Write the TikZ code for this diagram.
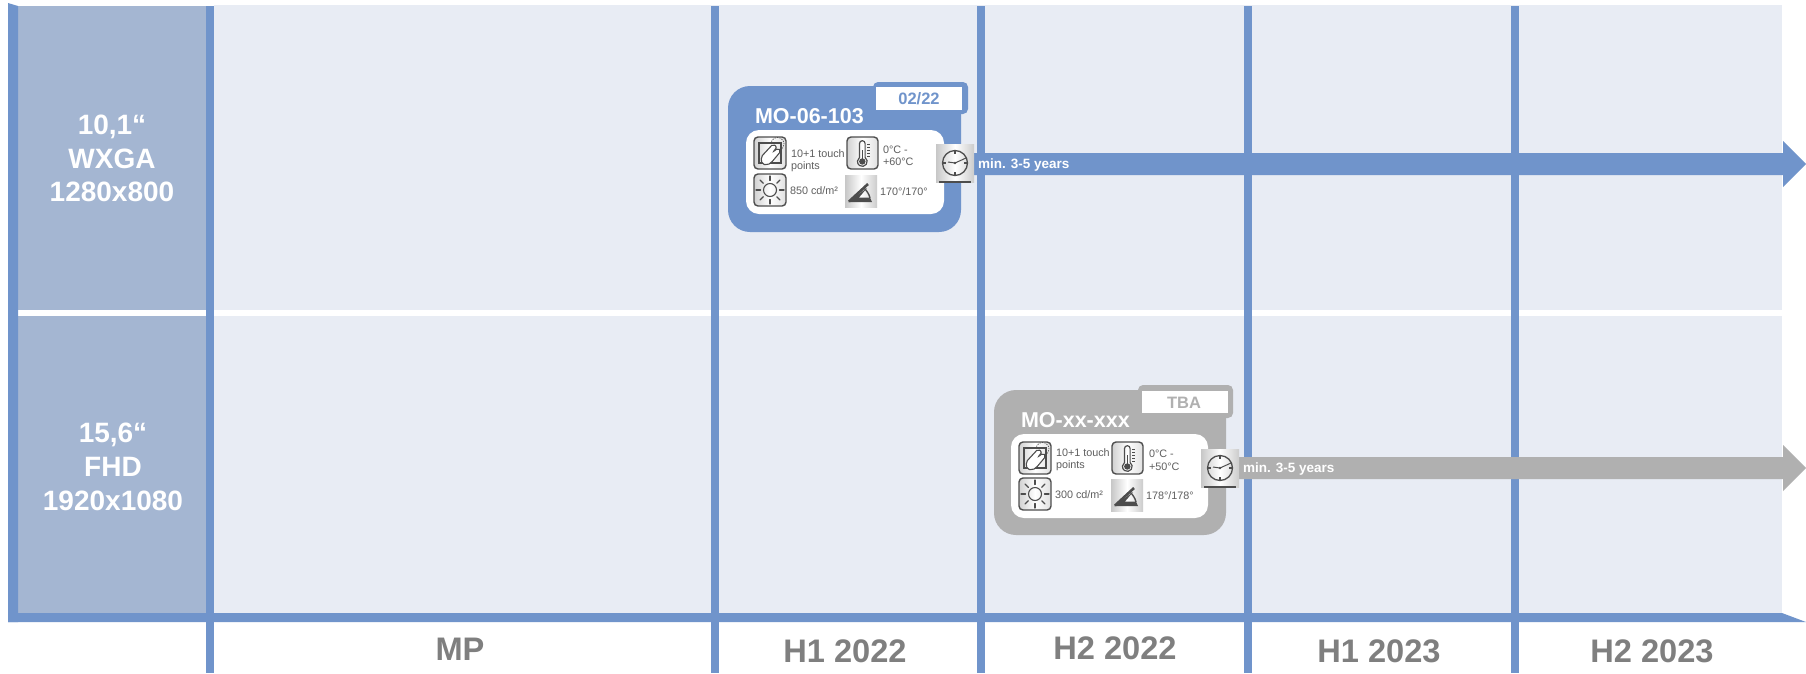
\documentclass[tikz,border=0pt]{standalone}
\usepackage{fontspec}
\setmainfont{Liberation Sans}
\definecolor{mblue}{HTML}{7094CB}
\definecolor{mbg}{HTML}{E8ECF4}
\definecolor{mhead}{HTML}{A4B6D2}
\definecolor{mgray}{HTML}{B0B0B0}
\definecolor{mtext}{HTML}{7F7F7F}
\definecolor{mdark}{HTML}{4D4D4D}
\definecolor{msmall}{HTML}{5F5F5F}
\tikzset{
  lbl/.style={inner sep=0pt,outer sep=0pt,anchor=base},
  lblw/.style={inner sep=0pt,outer sep=0pt,anchor=base west},
  headtxt/.style={lbl,text=white,font=\fontsize{28}{28}\selectfont\bfseries},
  axistxt/.style={lbl,text=mtext,font=\fontsize{32.6}{33}\selectfont\bfseries},
  small/.style={lblw,text=msmall,font=\fontsize{10.8}{11}\selectfont},
  cardtitle/.style={lblw,text=white,font=\fontsize{21.5}{22}\selectfont\bfseries},
  tabtxt/.style={lbl,font=\fontsize{16.5}{16.5}\selectfont\bfseries},
  mintxt/.style={lblw,text=white,font=\fontsize{13.5}{14}\selectfont\bfseries},
  iconbg/.style={rounded corners=4pt,draw=mdark,line width=1.4pt,left color=white!82!black,right color=white!88!black,middle color=white},
  sqbg/.style={left color=white!78!black,right color=white!80!black,middle color=white},
  ink/.style={draw=mdark,line cap=round,line width=1.3pt},
}
% icons, origin at top left
\newcommand{\icontouch}[2]{\begin{scope}[shift={(#1,#2)}]
  \path[iconbg] (0,0) rectangle (32,32);
  \draw[draw=mdark,line width=2pt] (5,6) rectangle (27,26);
  \draw[draw=mdark,line width=.7pt,dash pattern=on 1.2pt off 1.2pt] (17,7) arc (180:430:6.5);
  \draw[draw=mdark,fill=white,line width=1.1pt,rounded corners=2pt] (8,27) -- (7,20) -- (19,7) -- (23,10) -- (19,15) -- (24,11) -- (27,14) -- (17,26) -- (13,28) -- cycle;
\end{scope}}
\newcommand{\iconthermo}[2]{\begin{scope}[shift={(#1,#2)}]
  \path[iconbg] (0,0) rectangle (31,32);
  \draw[draw=mdark,line width=1.2pt] (12.5,20.5) -- (12.5,6.5) arc (180:360:2.8) -- (18.1,20.5) arc (-55:235:4.88);
  \fill[mdark] (15.3,24.5) circle (3.2);
  \fill[mdark] (14.6,13) rectangle (16,22);
  \foreach \q in {7,10,13,16,19} \fill[mdark] (20,\q) rectangle (22.5,\q+1.2);
\end{scope}}
\newcommand{\iconsun}[2]{\begin{scope}[shift={(#1,#2)}]
  \path[iconbg] (0,0) rectangle (32,32);
  \draw[draw=mdark,line width=1.1pt] (16,16) circle (6.5);
  \foreach \q in {0,45,...,315} \draw[ink] (16,16) ++(\q:9.5) -- ++(\q:4.5);
\end{scope}}
\newcommand{\iconangle}[2]{\begin{scope}[shift={(#1,#2)}]
  \fill[sqbg] (0,0) rectangle (32,32);
  \fill[mdark] (3,27) -- (27,27) -- (25,22.5) -- (14,22.5) -- (22,13) -- cycle;
  \draw[draw=mdark,line width=2.6pt] (4,26.5) -- (23,9);
  \draw[draw=mdark,line width=1.4pt] (19,13) .. controls (22,16) and (24,19) .. (25,23);
\end{scope}}
\newcommand{\iconclock}[2]{\begin{scope}[shift={(#1,#2)}]
  \fill[sqbg] (0,0) rectangle (38,38);
  \draw[draw=mdark,line width=1.2pt] (3,38) -- (35,38);
  \draw[draw=mdark,line width=1.3pt] (19,19) circle (12.5);
  \foreach \q in {0,90,180,270} \draw[draw=mdark,line width=1.3pt] (19,19) ++(\q:12.5) -- ++(\q:-3.5);
  \fill[mdark] (19,19) circle (1.3);
  \draw[draw=mdark,line width=1pt] (12,18) -- (19,19) -- (30,14);
\end{scope}}
\begin{document}
\begin{tikzpicture}[x=1pt,y=-1pt]
\useasboundingbox (0,0) rectangle (1806,673);
\fill[white] (0,0) rectangle (1806,673);
% panels
\fill[mbg] (214,5) rectangle (1782,310);
\fill[mbg] (214,316) rectangle (1782,613);
\fill[mhead] (18,6) rectangle (206,310);
\fill[mhead] (18,316) rectangle (206,613);
% grid
\fill[mblue] (8,3) -- (18,6) -- (18,622) -- (8,622) -- cycle;
\foreach \xa in {206,711,977,1244,1511} \fill[mblue] (\xa,5.5) rectangle (\xa+8,673);
\fill[mblue] (8,613) -- (1782,613) -- (1806,622) -- (8,622) -- cycle;
% head labels
\node[headtxt] (h1a) at (112,134) {10,1“};
\node[headtxt] (h1b) at (112,168) {WXGA};
\node[headtxt] (h1c) at (112,201) {1280x800};
\node[headtxt] (h2a) at (113,442) {15,6“};
\node[headtxt] (h2b) at (113,476) {FHD};
\node[headtxt] (h2c) at (113,510) {1920x1080};
% axis
\node[axistxt] (ax1) at (460,660) {MP};
\node[axistxt] (ax2) at (845,662) {H1 2022};
\node[axistxt] (ax3) at (1115,659.5) {H2 2022};
\node[axistxt] (ax4) at (1379,662) {H1 2023};
\node[axistxt] (ax5) at (1652,662) {H2 2023};
% arrows
\fill[mblue] (960,153) -- (1783,153) -- (1783,141) -- (1806,164) -- (1783,187) -- (1783,175) -- (960,175) -- cycle;
\fill[mgray] (1230,457) -- (1783,457) -- (1783,445) -- (1806,468) -- (1783,491) -- (1783,479) -- (1230,479) -- cycle;
% card 1
\fill[mblue,rounded corners=5pt] (873,82) rectangle (968,114);
\fill[mblue,rounded corners=22pt] (728,86) rectangle (961,232);
\fill[white] (876,87) rectangle (962,110);
\fill[white,rounded corners=13pt] (746,130) rectangle (944,214);
\node[cardtitle] (t1) at (755,123) {MO-06-103};
\node[tabtxt,text=mblue] (d1) at (919,104.5) {02/22};
\icontouch{754}{137}\iconthermo{847}{137}\iconsun{754}{174}\iconangle{845}{175}\iconclock{936}{144}
\node[small] (a1) at (791,157) {10+1 touch};
\node[small] (a2) at (791,169) {points};
\node[small] (a3) at (883,153) {0°C -};
\node[small] (a4) at (883,165) {+60°C};
\node[small] (a5) at (790,194) {850 cd/m²};
\node[small] (a6) at (880,195) {170°/170°};
\node[mintxt] (m1) at (978,168) {min. 3-5 years};
% card 2
\fill[mgray,rounded corners=5pt] (1138,385) rectangle (1233,418);
\fill[mgray,rounded corners=22pt] (994,390) rectangle (1226,535);
\fill[white] (1142,391) rectangle (1228,413);
\fill[white,rounded corners=13pt] (1011,434) rectangle (1208,518);
\node[cardtitle] (t2) at (1021,427) {MO-xx-xxx};
\node[tabtxt,text=mgray] (d2) at (1184,408) {TBA};
\icontouch{1019}{442}\iconthermo{1112}{442}\iconsun{1019}{478}\iconangle{1111}{479}\iconclock{1201}{449}
\node[small] (b1) at (1056,456) {10+1 touch};
\node[small] (b2) at (1056,468) {points};
\node[small] (b3) at (1149,457) {0°C -};
\node[small] (b4) at (1149,470) {+50°C};
\node[small] (b5) at (1055,498) {300 cd/m²};
\node[small] (b6) at (1146,499) {178°/178°};
\node[mintxt] (m2) at (1243,472) {min. 3-5 years};
\end{tikzpicture}
\end{document}
